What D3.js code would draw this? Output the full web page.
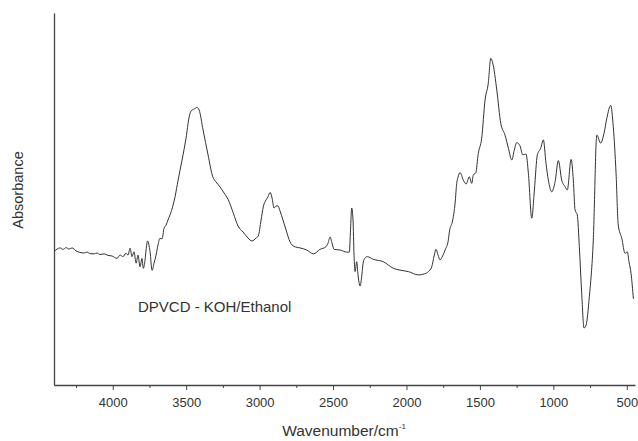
<!DOCTYPE html>
<html>
<head>
<meta charset="utf-8">
<script src="https://cdn.jsdelivr.net/npm/d3@7"></script>
<style>
  body { margin: 0; background: #fff; }
  svg text { font-family: "Liberation Sans", Arial, sans-serif; fill: #333; }
</style>
</head>
<body>
<svg id="spectrum"></svg>
<script>
// FTIR spectrum
const wavenumber = [
  4400, 4379, 4359, 4338, 4318, 4298, 4277, 4250, 4223, 4195, 4175, 4155, 4127, 4107, 4087, 4059, 4032, 4005,
  3971, 3950, 3930, 3910, 3896, 3882, 3869, 3855, 3841, 3828, 3814, 3801, 3792, 3780, 3773, 3763, 3746, 3732,
  3719, 3705, 3692, 3678, 3664, 3651, 3637, 3624, 3610, 3589, 3576, 3555, 3528, 3501, 3481, 3467, 3446, 3426,
  3412, 3385, 3351, 3319, 3297, 3269, 3242, 3213, 3179, 3147, 3113, 3079, 3052, 3024, 3009, 2990, 2975, 2956,
  2943, 2929, 2915, 2902, 2888, 2875, 2861, 2841, 2820, 2793, 2766, 2725, 2679, 2634, 2589, 2548, 2534, 2520,
  2507, 2493, 2452, 2407, 2389, 2381, 2373, 2364, 2357, 2350, 2339, 2330, 2316, 2306, 2294, 2282, 2267, 2226,
  2158, 2089, 2044, 1987, 1919, 1880, 1851, 1828, 1812, 1799, 1785, 1771, 1754, 1737, 1715, 1708, 1685, 1669,
  1658, 1649, 1635, 1613, 1594, 1572, 1556, 1545, 1528, 1511, 1488, 1465, 1443, 1426, 1413, 1385, 1358, 1329,
  1306, 1283, 1266, 1249, 1227, 1208, 1186, 1170, 1147, 1129, 1109, 1086, 1068, 1050, 1034, 1011, 988, 966,
  943, 920, 905, 879, 864, 852, 837, 823, 807, 791, 777, 755, 728, 704, 677, 655, 636, 609, 592, 573, 558,
  534, 512, 496, 485, 471, 455
];

const absorbance = [
  0.444, 0.453, 0.457, 0.452, 0.458, 0.453, 0.457, 0.447, 0.442, 0.440, 0.443, 0.438, 0.437, 0.440, 0.435, 0.437, 0.432, 0.430,
  0.422, 0.433, 0.428, 0.439, 0.433, 0.456, 0.428, 0.444, 0.406, 0.433, 0.394, 0.422, 0.389, 0.417, 0.450, 0.480, 0.444, 0.382,
  0.406, 0.433, 0.467, 0.489, 0.487, 0.522, 0.533, 0.550, 0.567, 0.600, 0.627, 0.683, 0.750, 0.823, 0.890, 0.913, 0.920, 0.925,
  0.917, 0.850, 0.767, 0.694, 0.677, 0.660, 0.640, 0.617, 0.573, 0.530, 0.510, 0.490, 0.480, 0.490, 0.497, 0.550, 0.594, 0.617,
  0.627, 0.642, 0.623, 0.590, 0.597, 0.597, 0.580, 0.550, 0.517, 0.477, 0.462, 0.457, 0.450, 0.437, 0.452, 0.461, 0.473, 0.493,
  0.473, 0.452, 0.450, 0.443, 0.443, 0.517, 0.590, 0.550, 0.433, 0.378, 0.411, 0.367, 0.330, 0.357, 0.410, 0.423, 0.428, 0.419,
  0.411, 0.389, 0.383, 0.378, 0.367, 0.370, 0.378, 0.394, 0.430, 0.452, 0.433, 0.417, 0.430, 0.450, 0.483, 0.510, 0.550, 0.606,
  0.672, 0.693, 0.708, 0.683, 0.670, 0.694, 0.672, 0.700, 0.708, 0.772, 0.822, 0.950, 1.006, 1.089, 1.074, 0.983, 0.872, 0.833,
  0.789, 0.750, 0.783, 0.808, 0.797, 0.767, 0.770, 0.706, 0.556, 0.650, 0.767, 0.789, 0.817, 0.739, 0.683, 0.644, 0.678, 0.748,
  0.683, 0.661, 0.650, 0.752, 0.683, 0.583, 0.567, 0.461, 0.306, 0.190, 0.200, 0.294, 0.483, 0.833, 0.806, 0.839, 0.889, 0.932, 0.861, 0.706, 0.533,
  0.489, 0.439, 0.444, 0.411, 0.372, 0.287
];

// Axis ticks
const majorTicks = [4000, 3500, 3000, 2500, 2000, 1500, 1000, 500];
const minorTicks = [4250, 3750, 3250, 2750, 2250, 1750, 1250, 750];

const sampleLabel = "DPVCD - KOH/Ethanol";

const data = wavenumber.map((w, i) => ({ w: w, a: absorbance[i] }));

// Chart dimensions
const width = 638;
const height = 441;
const margin = { top: 13, right: 3, bottom: 56, left: 54 };

const svg = d3.select("#spectrum")
  .attr("width", width)
  .attr("height", height);

// X and Y scales (wavenumber decreases to the right)
const xScale = d3.scaleLinear()
  .domain([4400, 444])
  .range([margin.left, width - margin.right]);

const yScale = d3.scaleLinear()
  .domain([0, 1.24])
  .range([height - margin.bottom, margin.top]);

// Minor ticks first, then the major axis on top
svg.append("g")
  .attr("transform", `translate(0,${height - margin.bottom})`)
  .call(d3.axisBottom(xScale).tickValues(minorTicks).tickSize(3).tickFormat(""))
  .call(g => g.select(".domain").remove())
  .selectAll("line")
  .attr("stroke", "#444");

const xAxis = svg.append("g")
  .attr("transform", `translate(0,${height - margin.bottom})`)
  .call(d3.axisBottom(xScale)
    .tickValues(majorTicks)
    .tickFormat(d3.format("d"))
    .tickSize(5)
    .tickSizeOuter(0)
    .tickPadding(8));

xAxis.select(".domain").attr("stroke", "#444").attr("stroke-width", 1.3);
xAxis.selectAll(".tick line").attr("stroke", "#444");
xAxis.selectAll(".tick text")
  .style("font-size", "13px")
  .style("font-family", "\"Liberation Sans\", Arial, sans-serif")
  .attr("fill", "#444");

// Left axis line only, no ticks
svg.append("g")
  .attr("transform", `translate(${margin.left},0)`)
  .call(d3.axisLeft(yScale).tickValues([]).tickSizeOuter(0))
  .select(".domain")
  .attr("stroke", "#444")
  .attr("stroke-width", 1.3);

// The spectrum
const line = d3.line()
  .x(d => xScale(d.w))
  .y(d => yScale(d.a))
  .curve(d3.curveMonotoneX);

svg.append("path")
  .datum(data)
  .attr("fill", "none")
  .attr("stroke", "#333")
  .attr("stroke-width", 1)
  .attr("d", line);

// Axis titles
svg.append("text")
  .attr("transform", "translate(23,190) rotate(-90)")
  .attr("text-anchor", "middle")
  .style("font-size", "14.5px")
  .text("Absorbance");

const xTitle = svg.append("text")
  .attr("x", 344)
  .attr("y", 436)
  .attr("text-anchor", "middle")
  .style("font-size", "15.5px");
xTitle.append("tspan").text("Wavenumber/cm");
xTitle.append("tspan")
  .attr("dy", -7)
  .style("font-size", "8px")
  .text("-1");

// Sample label
svg.append("text")
  .attr("x", 138)
  .attr("y", 312)
  .style("font-size", "15px")
  .text(sampleLabel);
</script>
</body>
</html>
